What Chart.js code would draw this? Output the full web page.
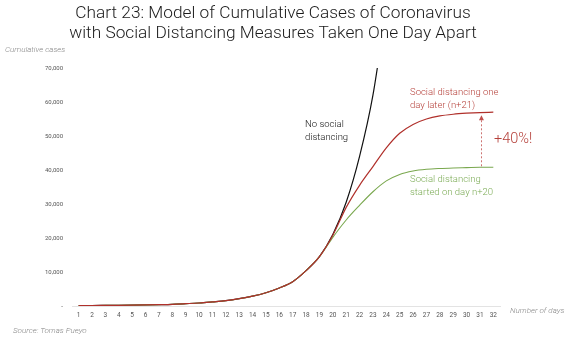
<!DOCTYPE html>
<html><head><meta charset="utf-8">
<script src="https://cdn.jsdelivr.net/npm/chart.js@4.4.1/dist/chart.umd.min.js"></script>
<style>
html,body{margin:0;padding:0;background:#fff;width:570px;height:338px;overflow:hidden;}
#wrap{position:relative;width:570px;height:338px;}
canvas{position:absolute;left:0;top:0;}
.t{position:absolute;white-space:nowrap;font-family:Roboto,"Liberation Sans",sans-serif;}
#title{left:-12px;width:570px;top:2px;text-align:center;font-size:17.3px;font-weight:300;color:#1a1a1a;line-height:20px;}
.ax{font-style:italic;color:#888;font-size:8px;font-weight:300;}
.ann{font-size:9.5px;line-height:12.5px;font-weight:300;}
</style></head>
<body><div id="wrap">
<canvas id="c" width="570" height="338"></canvas>
<div class="t" id="title">Chart 23: Model of Cumulative Cases of Coronavirus<br>with Social Distancing Measures Taken One Day Apart</div>
<div class="t ax" style="left:5px;top:45px;">Cumulative cases</div>
<div class="t ax" style="left:510px;top:306px;">Number of days</div>
<div class="t ax" style="left:13px;top:326px;">Source: Tomas Pueyo</div>
<div class="t ann" style="left:305px;top:118px;color:#111;">No social<br>distancing</div>
<div class="t ann" style="left:410px;top:86px;color:#b5403a;">Social distancing one<br>day later (n+21)</div>
<div class="t ann" style="left:410px;top:173px;color:#7bab55;">Social distancing<br>started on day n+20</div>
<div class="t" style="left:494px;top:130px;color:#b5403a;font-size:14.5px;font-weight:300;">+40%!</div>
</div>
<script>
const days = Array.from({length:32},(_, i)=>String(i+1));
const noDistancing = [100,130,170,210,260,320,400,500,680,880,1200,1560,2150,2900,3900,5300,7150,10400,14500,21000,30500,44000,62000,88000,null,null,null,null,null,null,null,null];
const oneDayLater  = [100,130,170,210,260,320,400,500,680,880,1200,1560,2150,2900,3900,5300,7150,10400,14500,20800,29000,35500,41000,46500,50800,53400,55000,55900,56400,56700,56900,57000];
const startedDay20 = [100,130,170,210,260,320,400,500,680,880,1200,1560,2150,2900,3900,5300,7150,10400,14500,20200,25300,29600,33600,36800,38700,39700,40200,40450,40600,40700,40800,40800];
const yTicks = [0,10000,20000,30000,40000,50000,60000,70000];

const arrowPlugin = {
  id:'arrow',
  afterDatasetsDraw(chart){
    const {ctx, scales:{x,y}} = chart;
    const px = x.getPixelForValue(30) + 1.5;
    const y0 = y.getPixelForValue(startedDay20[31]) - 1;
    const y1 = y.getPixelForValue(oneDayLater[31]) + 3;
    ctx.save();
    ctx.strokeStyle = '#c0504d';
    ctx.fillStyle = '#c0504d';
    ctx.lineWidth = 0.8;
    ctx.setLineDash([2,2]);
    ctx.beginPath(); ctx.moveTo(px,y0); ctx.lineTo(px,y1+4); ctx.stroke();
    ctx.setLineDash([]);
    ctx.beginPath(); ctx.moveTo(px,y1); ctx.lineTo(px-2.5,y1+5); ctx.lineTo(px+2.5,y1+5); ctx.closePath(); ctx.fill();
    ctx.restore();
  }
};

new Chart(document.getElementById('c'), {
  type:'line',
  data:{labels:days, datasets:[
    {data:noDistancing, order:3, borderColor:'#111', borderWidth:1.2, pointRadius:0, cubicInterpolationMode:'monotone', spanGaps:false},
    {data:oneDayLater, order:1, borderColor:'#b0302b', borderWidth:1.2, pointRadius:0, cubicInterpolationMode:'monotone'},
    {data:startedDay20, order:2, borderColor:'#7aa84f', borderWidth:1.1, pointRadius:0, cubicInterpolationMode:'monotone'}
  ]},
  options:{
    responsive:false, animation:false, devicePixelRatio:1,
    layout:{padding:{top:68,right:70,left:0,bottom:0}},
    plugins:{legend:{display:false}, tooltip:{enabled:false}},
    scales:{
      x:{offset:true, grid:{display:false, drawTicks:false}, border:{display:true,color:'#e3e3e3',width:1},
         ticks:{color:'#555', font:{size:6.5, family:'Roboto, "Liberation Sans", sans-serif'}, padding:5, maxRotation:0, autoSkip:false},
         afterFit(s){s.height=32;}},
      y:{min:0,max:70000, grid:{display:false, drawTicks:false}, border:{display:false},
         afterBuildTicks(s){s.ticks = yTicks.map(v=>({value:v}));},
         ticks:{color:'#555', padding:9, font:{size:6, family:'Roboto, "Liberation Sans", sans-serif'},
           callback:v=> v===0 ? '-' : v.toLocaleString('en-US')},
         afterFit(s){s.width=72;}}
    }
  },
  plugins:[arrowPlugin]
});
</script>
</body></html>
